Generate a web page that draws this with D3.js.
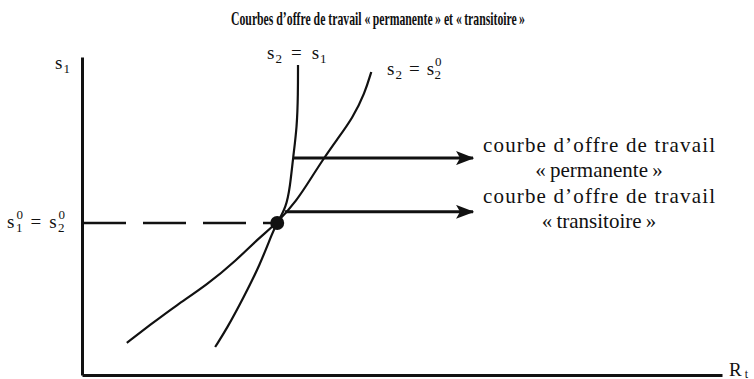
<!DOCTYPE html>
<html>
<head>
<meta charset="utf-8">
<script src="https://cdn.jsdelivr.net/npm/d3@7"></script>
<style>
  html, body { margin: 0; padding: 0; background: #fff; }
  svg { display: block; }
  text { font-family: "Liberation Serif", "DejaVu Serif", serif; fill: #111; }
</style>
</head>
<body>
<svg id="chart" width="754" height="379"></svg>
<script>
// ---- data (abstract units: R on x, s1 on y, both 0..100) ----
const title = "Courbes d\u2019offre de travail \u00ab\u2009permanente\u2009\u00bb et \u00ab\u2009transitoire\u2009\u00bb";

// permanent supply curve  s2 = s1  (steep)
const permR = [33.75, 33.75, 33.6, 32.97, 32.5, 31.9, 30.5, 29.8, 27.8, 25.2, 22.7, 20.8];
const permS = [97.5, 88.7, 78.0, 68.2, 59.1, 52.8, 47.8, 45.0, 34.6, 24.2, 14.8, 8.8];

// transitory supply curve  s2 = s2^0  (flatter)
const tranR = [45.2, 44.2, 42.3, 39.8, 37.8, 35.6, 33.6, 30.5, 27.3, 24.2, 19.5, 14.8, 10.6, 7.0];
const tranS = [95.3, 88.7, 80.8, 73.9, 68.2, 61.3, 55.0, 47.8, 42.5, 36.2, 28.3, 22.0, 15.7, 10.1];

// equilibrium point  s1^0 = s2^0
const eqR = 30.5, eqS = 47.8;

// arrows pointing to the labels
const arrowFrom = [32.97, 31.7];
const arrowTo = [61.1, 61.1];
const arrowS = [68.2, 51.3];
const arrowLabels = [["courbe d\u2019offre de travail", "\u00ab\u2009permanente\u2009\u00bb"],
                     ["courbe d\u2019offre de travail", "\u00ab\u2009transitoire\u2009\u00bb"]];

// ---- scales ----
const x = d3.scaleLinear().domain([0, 100]).range([82, 722]);
const y = d3.scaleLinear().domain([0, 100]).range([375, 57]);

const svg = d3.select("#chart");

// arrowhead marker
svg.append("defs").append("marker")
  .attr("id", "head")
  .attr("markerUnits", "userSpaceOnUse")
  .attr("viewBox", "0 0 18 14")
  .attr("refX", 17).attr("refY", 7)
  .attr("markerWidth", 18).attr("markerHeight", 14)
  .attr("orient", "auto")
  .append("path")
  .attr("d", "M0,0 L18,7 L0,14 L4,7 Z")
  .attr("fill", "#111");

// title
svg.append("text")
  .attr("x", 231).attr("y", 25)
  .attr("font-size", 19).attr("font-weight", "bold")
  .attr("textLength", 294).attr("lengthAdjust", "spacingAndGlyphs")
  .text(title);

// axes (no ticks)
const gy = svg.append("g").attr("transform", `translate(${x(0)},0)`)
  .call(d3.axisLeft(y).tickValues([]).tickSizeOuter(0));
const gx = svg.append("g").attr("transform", `translate(0,${y(0)})`)
  .call(d3.axisBottom(x).tickValues([]).tickSizeOuter(0));
[gx, gy].forEach(g => g.select(".domain").attr("stroke", "#111").attr("stroke-width", 3));

// dashed reference line
svg.append("line")
  .attr("x1", x(0) + 1).attr("x2", x(eqR))
  .attr("y1", y(eqS)).attr("y2", y(eqS))
  .attr("stroke", "#111").attr("stroke-width", 2.5)
  .attr("stroke-dasharray", "43,17");

// curves
const line = d3.line().x(d => x(d[0])).y(d => y(d[1])).curve(d3.curveBasis);
svg.append("path").datum(permR.map((r, i) => [r, permS[i]]))
  .attr("d", line).attr("fill", "none").attr("stroke", "#111").attr("stroke-width", 2.2);
svg.append("path").datum(tranR.map((r, i) => [r, tranS[i]]))
  .attr("d", line).attr("fill", "none").attr("stroke", "#111").attr("stroke-width", 2.2);

// arrows
arrowS.forEach((s, i) => {
  svg.append("line")
    .attr("x1", x(arrowFrom[i])).attr("x2", x(arrowTo[i]))
    .attr("y1", y(s)).attr("y2", y(s))
    .attr("stroke", "#111").attr("stroke-width", 3)
    .attr("marker-end", "url(#head)");
});

// equilibrium dot
svg.append("circle").attr("cx", x(eqR)).attr("cy", y(eqS)).attr("r", 7).attr("fill", "#111");

// arrow labels
const labelOffset = [-6, -9];
arrowLabels.forEach((lines, i) => {
  lines.forEach((l, j) => {
    const t = svg.append("text").attr("text-anchor", "middle").attr("font-size", 21)
      .attr("x", 599).attr("y", y(arrowS[i]) + labelOffset[i] + j * 25).text(l);
    if (j === 0) t.attr("textLength", 232).attr("lengthAdjust", "spacing");
  });
});

// axis labels
(function () {
  const t = svg.append("text").attr("x", 55).attr("y", 69).attr("font-size", 19);
  t.append("tspan").text("s");
  t.append("tspan").attr("font-size", 13).attr("dx", 1).attr("dy", 4).text("1");
})();
// s1^0 = s2^0
(function () {
  const t = svg.append("text").attr("x", 7).attr("y", 228).attr("font-size", 19);
  t.append("tspan").text("s");
  t.append("tspan").attr("font-size", 13).attr("dx", 2).attr("dy", -9).text("0");
  t.append("tspan").attr("font-size", 13).attr("dx", -7).attr("dy", 13).text("1");
  t.append("tspan").attr("dx", 8).attr("dy", -4).text("=");
  t.append("tspan").attr("dx", 8).text("s");
  t.append("tspan").attr("font-size", 13).attr("dx", 2).attr("dy", -9).text("0");
  t.append("tspan").attr("font-size", 13).attr("dx", -7).attr("dy", 13).text("2");
})();
// s2 = s1
(function () {
  const t = svg.append("text").attr("x", 267).attr("y", 59).attr("font-size", 19);
  t.append("tspan").text("s");
  t.append("tspan").attr("font-size", 13).attr("dx", 1).attr("dy", 4).text("2");
  t.append("tspan").attr("dx", 9).attr("dy", -4).text("=");
  t.append("tspan").attr("dx", 10).text("s");
  t.append("tspan").attr("font-size", 13).attr("dx", 1).attr("dy", 4).text("1");
})();
// s2 = s2^0
(function () {
  const t = svg.append("text").attr("x", 387).attr("y", 75).attr("font-size", 19);
  t.append("tspan").text("s");
  t.append("tspan").attr("font-size", 13).attr("dx", 1).attr("dy", 4).text("2");
  t.append("tspan").attr("dx", 7).attr("dy", -4).text("=");
  t.append("tspan").attr("dx", 7).text("s");
  t.append("tspan").attr("font-size", 13).attr("dx", 1).attr("dy", -9).text("0");
  t.append("tspan").attr("font-size", 13).attr("dx", -7).attr("dy", 13).text("2");
})();
// R label
(function () {
  const t = svg.append("text").attr("x", 729).attr("y", 376).attr("font-size", 19);
  t.append("tspan").text("R");
  t.append("tspan").attr("font-size", 12).attr("dx", 3).attr("dy", 2).text("t");
})();
</script>
</body>
</html>
